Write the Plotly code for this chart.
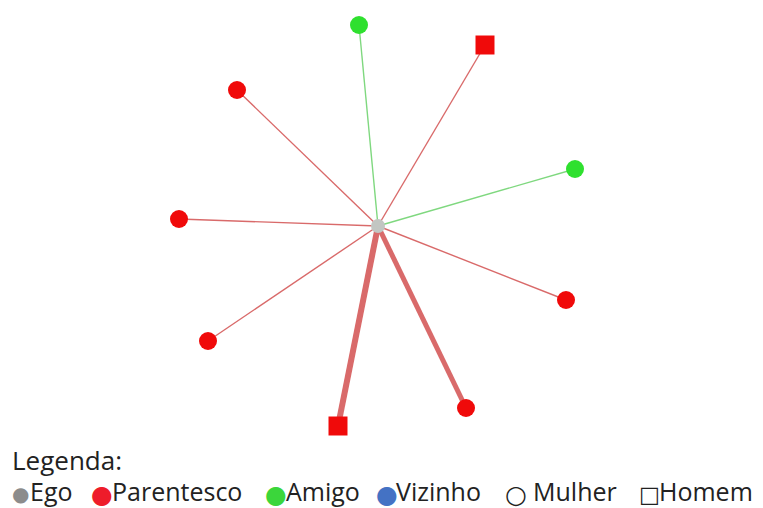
import plotly.graph_objects as go

# ego e alters (coordenadas no plano da figura)
ego = (378, 226)
alter_x = [359, 485, 237, 575, 179, 566, 208, 338, 466]
alter_y = [25, 45, 90, 169, 219, 300, 341, 426, 408]
alter_tipo = ['Amigo', 'Parentesco', 'Parentesco', 'Amigo', 'Parentesco',
              'Parentesco', 'Parentesco', 'Parentesco', 'Parentesco']
alter_sexo = ['Mulher', 'Homem', 'Mulher', 'Mulher', 'Mulher',
              'Mulher', 'Mulher', 'Homem', 'Mulher']
laco_forte = [1, 1, 1, 1, 1, 1, 1, 6, 5]

# itens da legenda
legenda_itens = ['Ego', 'Parentesco', 'Amigo', 'Vizinho', 'Mulher', 'Homem']
legenda_simbolos = ['●', '●', '●', '●', '○', '□']

cor_no = {'Ego': '#c2c6c2', 'Parentesco': '#f00a0a', 'Amigo': '#2fe02f', 'Vizinho': '#4472c4'}
cor_legenda = {'Ego': '#8c8c8c', 'Parentesco': '#ee1c2a', 'Amigo': '#3bd63b',
               'Vizinho': '#4472c4', 'Mulher': '#222222', 'Homem': '#222222'}
cor_laco = {'Parentesco': '#d96a6a', 'Amigo': '#7fd87f', 'Vizinho': '#7f9fd8'}
simbolo = {'Mulher': 'circle', 'Homem': 'square'}

fig = go.Figure()

for x, y, t, w in zip(alter_x, alter_y, alter_tipo, laco_forte):
    fig.add_trace(go.Scatter(
        x=[ego[0], x], y=[ego[1], y], mode='lines',
        line=dict(color=cor_laco[t], width=1.4 if w == 1 else w),
        hoverinfo='skip', showlegend=False,
    ))

fig.add_trace(go.Scatter(
    x=[ego[0]], y=[ego[1]], mode='markers',
    marker=dict(color=cor_no['Ego'], size=14, opacity=1, line=dict(width=0)),
    showlegend=False,
))

fig.add_trace(go.Scatter(
    x=alter_x, y=alter_y, mode='markers',
    marker=dict(
        color=[cor_no[t] for t in alter_tipo],
        symbol=[simbolo[s] for s in alter_sexo],
        size=[18 if s == 'Mulher' else 19 for s in alter_sexo],
        opacity=1,
        line=dict(width=0),
    ),
    text=alter_tipo, hovertemplate='%{text}<extra></extra>',
    showlegend=False,
))

fonte = dict(family='Open Sans', size=26, color='#222222')
fonte2 = dict(family='Open Sans', size=25, color='#222222')

fig.add_annotation(x=10, y=460, xref='x', yref='y', text='Legenda:',
                   showarrow=False, xanchor='left', yanchor='middle', font=fonte)

# posição (px) do símbolo e do texto de cada item
simb_x = [20, 102, 276, 387, 516, 649]
texto_x = [29, 111, 285, 395, 532, 658]
tam_simb = [20, 25, 25, 25, 25, 22]
linha_y = 491
for sx, tx, nome, simb, tam in zip(simb_x, texto_x, legenda_itens, legenda_simbolos, tam_simb):
    fig.add_annotation(x=sx, y=linha_y + 3, xref='x', yref='y', text=simb,
                       showarrow=False, xanchor='center', yanchor='middle', borderpad=0,
                       font=dict(family='DejaVu Sans', size=tam, color=cor_legenda[nome]))
    fig.add_annotation(x=tx, y=linha_y, xref='x', yref='y', text=nome,
                       showarrow=False, xanchor='left', yanchor='middle', borderpad=0,
                       font=fonte2)

# a página tem 8px de margem no body: compensa reduzindo a figura
fig.update_layout(
    width=755, height=500,
    margin=dict(l=0, r=0, t=0, b=0),
    paper_bgcolor='white', plot_bgcolor='white',
)
fig.update_xaxes(range=[8, 763], visible=False, fixedrange=True)
fig.update_yaxes(range=[508, 8], visible=False, fixedrange=True)

fig.write_html("out.html")
